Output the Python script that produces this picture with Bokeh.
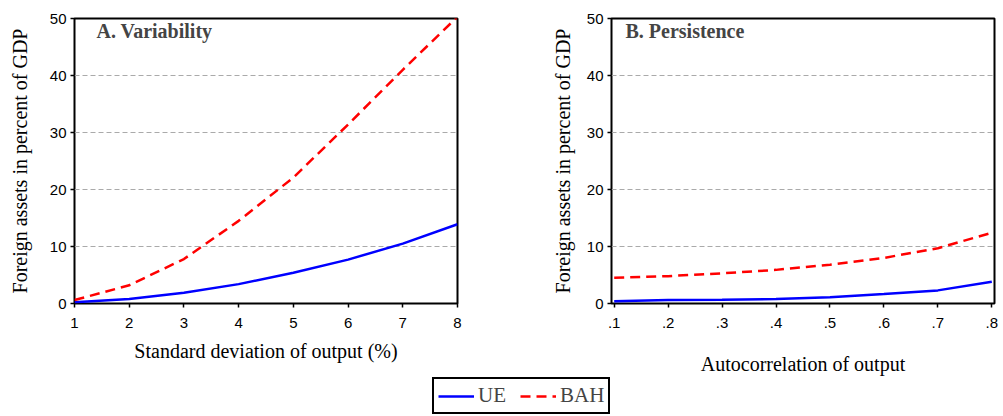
from bokeh.plotting import figure
from bokeh.models import Range1d, FixedTicker, Label, Legend, LegendItem
from bokeh.layouts import column, row
from bokeh.embed import file_html
from bokeh.resources import INLINE

# Panel A data
sd_output = [1, 2, 3, 4, 5, 6, 7, 8]
ue_a = [0.2, 0.8, 1.9, 3.4, 5.4, 7.7, 10.5, 13.9]
bah_a = [0.6, 3.2, 7.8, 14.5, 22.1, 31.4, 41.0, 50.3]

# Panel B data
autocorr = [0.1, 0.2, 0.3, 0.4, 0.5, 0.6, 0.7, 0.8]
ue_b = [0.4, 0.6, 0.65, 0.8, 1.1, 1.65, 2.3, 3.8]
bah_b = [4.5, 4.8, 5.3, 5.9, 6.8, 8.0, 9.7, 12.4]
b_tick_labels = [".1", ".2", ".3", ".4", ".5", ".6", ".7", ".8"]

y_ticks = [0, 10, 20, 30, 40, 50]
y_title = "Foreign assets in percent of GDP"

SERIF = "Liberation Serif"
SANS = "Liberation Sans"
BLUE = "#0000ff"
RED = "#ff0000"
DASH = "10 6"


def style(p, xstand, ystand):
    p.outline_line_color = "black"
    p.outline_line_width = 2
    p.xgrid.grid_line_color = None
    p.ygrid.grid_line_color = "#aaaaaa"
    p.ygrid.grid_line_dash = "5 3"
    p.ygrid.grid_line_width = 1
    p.yaxis.ticker = FixedTicker(ticks=y_ticks)
    for ax in (p.xaxis[0], p.yaxis[0]):
        ax.axis_line_color = None
        ax.major_tick_out = 4
        ax.major_tick_in = 0
        ax.major_tick_line_color = "black"
        ax.major_tick_line_width = 1.5
        ax.minor_tick_line_color = None
        ax.major_label_text_font = SANS
        ax.major_label_text_font_size = "15px"
        ax.major_label_text_color = "black"
        ax.axis_label_text_font = SERIF
        ax.axis_label_text_font_size = "20px"
        ax.axis_label_text_font_style = "normal"
        ax.axis_label_text_color = "black"
    p.xaxis[0].major_label_standoff = 10
    p.yaxis[0].major_label_standoff = 4
    p.xaxis[0].axis_label_standoff = xstand
    p.yaxis[0].axis_label_standoff = ystand


# Left panel
p1 = figure(frame_width=383, frame_height=285, x_range=Range1d(1, 8), y_range=Range1d(0, 50),
            output_backend="svg", toolbar_location=None,
            min_border_left=74, min_border_right=63, min_border_top=15, min_border_bottom=70)
p1.line(sd_output, ue_a, line_color=BLUE, line_width=2.5)
p1.line(sd_output, bah_a, line_color=RED, line_width=2.5, line_dash=DASH)
p1.xaxis.axis_label = "Standard deviation of output (%)"
p1.yaxis.axis_label = y_title
p1.xaxis.ticker = FixedTicker(ticks=sd_output)
style(p1, 9, 16)
p1.add_layout(Label(x=22, y=273, x_units="screen", y_units="screen", text="A. Variability",
                    text_font=SERIF, text_font_style="bold", text_font_size="20px",
                    text_baseline="middle"))

# Right panel
p2 = figure(frame_width=383, frame_height=285, x_range=Range1d(0.095, 0.805), y_range=Range1d(0, 50),
            output_backend="svg", toolbar_location=None,
            min_border_left=91, min_border_right=9, min_border_top=18, min_border_bottom=20)
p2.line(autocorr, ue_b, line_color=BLUE, line_width=2.5)
p2.line(autocorr, bah_b, line_color=RED, line_width=2.5, line_dash=DASH)
p2.xaxis.axis_label = "Autocorrelation of output"
p2.yaxis.axis_label = y_title
p2.xaxis.ticker = FixedTicker(ticks=autocorr)
p2.xaxis.major_label_overrides = {t: l for t, l in zip(autocorr, b_tick_labels)}
style(p2, 22, 10)
p2.add_layout(Label(x=14, y=273, x_units="screen", y_units="screen", text="B. Persistence",
                    text_font=SERIF, text_font_style="bold", text_font_size="20px",
                    text_baseline="middle"))

# Legend strip
p3 = figure(width=1003, height=40, x_range=Range1d(0, 1), y_range=Range1d(0, 1),
            output_backend="svg", toolbar_location=None,
            min_border=0)
p3.axis.visible = False
p3.grid.grid_line_color = None
p3.outline_line_color = None
r1 = p3.line([5, 6], [5, 6], line_color=BLUE, line_width=2.5)
r2 = p3.line([5, 6], [5, 6], line_color=RED, line_width=2.5, line_dash=DASH)
leg = Legend(items=[LegendItem(label="UE", renderers=[r1]), LegendItem(label="BAH", renderers=[r2])],
             orientation="horizontal", location=(432, 3),
             label_text_font=SERIF, label_text_font_size="21px",
             glyph_width=36, glyph_height=16, label_standoff=4, spacing=14,
             padding=4, label_height=22, margin=0,
             border_line_color="black", border_line_width=2, border_line_alpha=1.0,
             background_fill_alpha=1.0)
p3.add_layout(leg)

layout = column(row(p1, p2), p3)

open("out.html", "w").write(file_html(layout, INLINE))
